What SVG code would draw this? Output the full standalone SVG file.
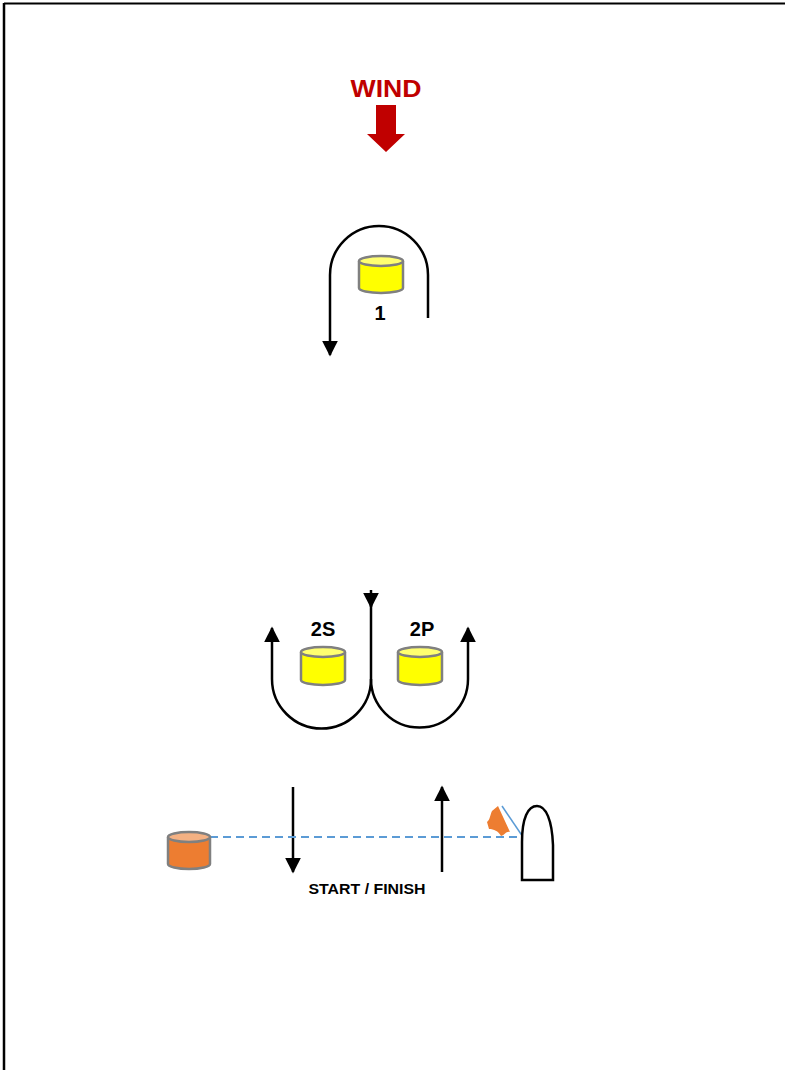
<svg xmlns="http://www.w3.org/2000/svg" width="785" height="1070" viewBox="0 0 785 1070">
<style>
.lbl{font-family:"Liberation Sans","Noto Sans",Arial,sans-serif;font-weight:bold;fill:#000;text-anchor:middle}
.path{fill:none;stroke:#000;stroke-width:2.5}
.yb{fill:#FFFF00;stroke:#808080;stroke-width:2.5}
.yt{fill:#FFFF70;stroke:#808080;stroke-width:2.5}
.ob{fill:#ED7D31;stroke:#808080;stroke-width:2.5}
.ot{fill:#F4B183;stroke:#808080;stroke-width:2.5}
</style>
<defs>
<marker id="ah" viewBox="0 0 10 10" refX="9" refY="5" markerWidth="6.4" markerHeight="6.4" markerUnits="strokeWidth" orient="auto">
<path d="M0,0 L10,5 L0,10 Z" fill="#000"/>
</marker>
</defs>
<rect x="0" y="0" width="785" height="1070" fill="#fff"/>
<g id="frame">
<line x1="4" y1="3.5" x2="785" y2="3.5" stroke="#000" stroke-width="2"/>
<line x1="4" y1="3" x2="4" y2="1070" stroke="#000" stroke-width="2.5"/>
</g>
<g id="wind">
<text class="lbl" x="386" y="97" font-size="24" style="fill:#C00000" textLength="71" lengthAdjust="spacingAndGlyphs">WIND</text>
<path d="M376,105 H396 V134 H405 L386,152 L367,134 H376 Z" fill="#C00000"/>
</g>
<g id="connectors">
<path class="path" d="M428,318 V275 A49,49 0 0 0 330,275 V355" marker-end="url(#ah)"/>
<path class="path" d="M371,590 V607" marker-end="url(#ah)"/>
<path class="path" d="M371,600 V679"/>
<path class="path" d="M371,679 A49.5,49.5 0 0 1 272,679 V628" marker-end="url(#ah)"/>
<path class="path" d="M371,679 A48.5,48.5 0 0 0 468,679 V628" marker-end="url(#ah)"/>
<path class="path" d="M293,787 V872" marker-end="url(#ah)"/>
<path class="path" d="M442,872 V787" marker-end="url(#ah)"/>
<line x1="210" y1="837" x2="523" y2="837" stroke="#5B9BD5" stroke-width="1.8" stroke-dasharray="8,5"/>
</g>
<g id="mark1">
<path class="yb" d="M359,261 V288 A22,5 0 0 0 403,288 V261"/>
<ellipse class="yt" cx="381" cy="261" rx="22" ry="5"/>
<text class="lbl" x="380" y="320" font-size="20">1</text>
</g>
<g id="mark2S">
<path class="yb" d="M301,652 V680 A22,5 0 0 0 345,680 V652"/>
<ellipse class="yt" cx="323" cy="652" rx="22" ry="5"/>
<text class="lbl" x="323" y="636" font-size="20">2S</text>
</g>
<g id="mark2P">
<path class="yb" d="M398,652 V680 A22,5 0 0 0 442,680 V652"/>
<ellipse class="yt" cx="420" cy="652" rx="22" ry="5"/>
<text class="lbl" x="422" y="636" font-size="20">2P</text>
</g>
<g id="pinbuoy">
<path class="ob" d="M168,837 V864 A21,5 0 0 0 210,864 V837"/>
<ellipse class="ot" cx="189" cy="837" rx="21" ry="5"/>
</g>
<g id="committee">
<line x1="502" y1="806" x2="523" y2="837" stroke="#5B9BD5" stroke-width="1.5"/>
<path d="M498,806 L510,832 C506,831 505,835 501,836 C498,831 494,829 489,829 L487,822 C490,820 490,815 492,811 C494,809 496,808 498,806 Z" fill="#ED7D31"/>
<path d="M522,880 V842 C522,818 528,806 537,806 C546,806 552,820 553,845 V880 Z" fill="#fff" stroke="#000" stroke-width="2.5"/>
</g>
<text class="lbl" x="367" y="894" font-size="14" textLength="117" lengthAdjust="spacingAndGlyphs">START / FINISH</text>
</svg>
